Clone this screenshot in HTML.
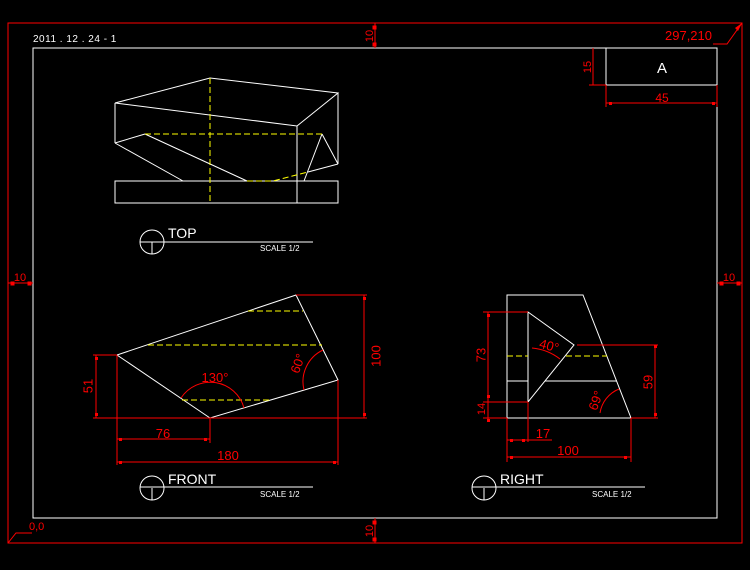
<!DOCTYPE html>
<html><head><meta charset="utf-8"><style>
html,body{margin:0;padding:0;background:#000;width:750px;height:570px;overflow:hidden}
svg{display:block}
text{font-family:"Liberation Sans",sans-serif}
</style></head><body>
<svg width="750" height="570" viewBox="0 0 750 570" xmlns="http://www.w3.org/2000/svg">
<rect width="750" height="570" fill="#000"/>
<rect x="8" y="23" width="734" height="520" fill="none" stroke="#f00" stroke-width="1"/>
<rect x="33" y="48" width="684" height="470" fill="none" stroke="#fff" stroke-width="1"/>
<g fill="#f00" stroke="#f00" stroke-width="1">
<line x1="375" y1="23" x2="375" y2="48"/><rect x="373" y="26" width="3" height="3"/><rect x="373" y="43" width="3" height="3"/>
<line x1="375" y1="518" x2="375" y2="543"/><rect x="373" y="521" width="3" height="3"/><rect x="373" y="538" width="3" height="3"/>
<line x1="8" y1="283" x2="33" y2="283"/><rect x="11" y="282" width="3" height="3"/><rect x="28" y="282" width="3" height="3"/>
<line x1="717" y1="283" x2="742" y2="283"/><rect x="720" y="282" width="3" height="3"/><rect x="737" y="282" width="3" height="3"/>
</g>
<g fill="#f00" font-size="11">
<text x="370" y="36" text-anchor="middle" transform="rotate(-90 370 36)" dominant-baseline="middle">10</text>
<text x="370" y="531" text-anchor="middle" transform="rotate(-90 370 531)" dominant-baseline="middle">10</text>
<text x="20" y="281" text-anchor="middle">10</text>
<text x="729" y="281" text-anchor="middle">10</text>
<text x="665" y="40" font-size="13">297,210</text>
<text x="29" y="530" font-size="11">0,0</text>
</g>
<polyline points="713,44 727,44 742,23" fill="none" stroke="#f00"/>
<polygon points="742,23 735,28 738,31" fill="#f00"/>
<polyline points="32,533 16,533 8,543" fill="none" stroke="#f00"/>
<text x="33" y="42" fill="#fff" font-size="10" letter-spacing="0.5">2011 . 12 . 24  - 1</text>
<rect x="606" y="48" width="111" height="37" fill="none" stroke="#fff"/>
<text x="662" y="73" fill="#fff" font-size="15" text-anchor="middle">A</text>
<g stroke="#f00" fill="#f00">
<line x1="593" y1="48" x2="593" y2="85"/><line x1="589" y1="85" x2="606" y2="85"/>
<line x1="606" y1="85" x2="606" y2="107"/><line x1="606" y1="103" x2="717" y2="103"/>
<line x1="717" y1="85" x2="717" y2="107"/>
<rect x="609" y="102" width="3" height="3" stroke="none"/><rect x="712" y="102" width="3" height="3" stroke="none"/>
</g>
<text x="588" y="67" fill="#f00" font-size="11" text-anchor="middle" dominant-baseline="middle" transform="rotate(-90 588 67)">15</text>
<text x="662" y="102" fill="#f00" font-size="12" text-anchor="middle">45</text>

<g fill="none" stroke="#fff" stroke-width="1">
<polygon points="115,103 210,78 338,93 297,126"/>
<line x1="115" y1="103" x2="115" y2="143"/>
<line x1="115" y1="143" x2="145" y2="134"/>
<line x1="145" y1="134" x2="247" y2="181"/>
<line x1="115" y1="143" x2="183" y2="181"/>
<line x1="338" y1="93" x2="338" y2="164"/>
<line x1="338" y1="164" x2="308" y2="172"/>
<line x1="322" y1="134" x2="338" y2="164"/>
<line x1="322" y1="134" x2="304" y2="181"/>
<line x1="297" y1="126" x2="297" y2="203"/>
<rect x="115" y="181" width="223" height="22"/>
</g>
<g fill="none" stroke="#ff0" stroke-width="1" stroke-dasharray="6,3">
<line x1="145" y1="134" x2="322" y2="134"/>
<line x1="210" y1="78" x2="210" y2="203"/>
<polyline points="247,181 273,181 308,172"/>
</g>
<g stroke="#fff" fill="none">
<circle cx="152" cy="242" r="12"/><line x1="152" y1="242" x2="152" y2="254"/><line x1="140" y1="242" x2="313" y2="242"/>
</g>
<text x="168" y="238" fill="#fff" font-size="14">TOP</text>
<text x="260" y="251" fill="#fff" font-size="8">SCALE 1/2</text>

<polygon points="117,355 296,295 338,380 210,418" fill="none" stroke="#fff"/>
<g stroke="#ff0" stroke-dasharray="6,3">
<line x1="248" y1="311" x2="303" y2="311"/>
<line x1="148" y1="345" x2="322" y2="345"/>
<line x1="182" y1="400" x2="272" y2="400"/>
</g>
<g stroke="#f00" fill="none">
<line x1="93" y1="418" x2="367" y2="418"/>
<line x1="117" y1="355" x2="117" y2="465"/>
<line x1="93" y1="355" x2="117" y2="355"/>
<line x1="96" y1="355" x2="96" y2="418"/>
<line x1="296" y1="295" x2="367" y2="295"/>
<line x1="364" y1="295" x2="364" y2="418"/>
<line x1="210" y1="418" x2="210" y2="443"/>
<line x1="117" y1="439" x2="210" y2="439"/>
<line x1="338" y1="380" x2="338" y2="465"/>
<line x1="117" y1="462" x2="338" y2="462"/>
<path d="M181,398 A35,35 0 0 1 244,408"/>
<path d="M304,390 A35,35 0 0 1 323,350"/>
</g>
<g fill="#f00">
<rect x="95" y="357" width="3" height="3"/><rect x="95" y="413" width="3" height="3"/>
<rect x="363" y="297" width="3" height="3"/><rect x="363" y="413" width="3" height="3"/>
<rect x="119" y="438" width="3" height="3"/><rect x="204" y="438" width="3" height="3"/>
<rect x="119" y="461" width="3" height="3"/><rect x="333" y="461" width="3" height="3"/>
</g>
<g fill="#f00" font-size="13">
<text x="89" y="386" text-anchor="middle" dominant-baseline="middle" transform="rotate(-90 89 386)">51</text>
<text x="377" y="356" text-anchor="middle" dominant-baseline="middle" transform="rotate(-90 377 356)">100</text>
<text x="163" y="438" text-anchor="middle">76</text>
<text x="228" y="460" text-anchor="middle">180</text>
<text x="215" y="382" text-anchor="middle">130°</text>
<text x="302" y="365" text-anchor="middle" transform="rotate(-70 302 365)">60°</text>
</g>
<g stroke="#fff" fill="none">
<circle cx="152" cy="488" r="12"/><line x1="152" y1="488" x2="152" y2="500"/><line x1="140" y1="487" x2="313" y2="487"/>
</g>
<text x="168" y="484" fill="#fff" font-size="14">FRONT</text>
<text x="260" y="497" fill="#fff" font-size="8">SCALE 1/2</text>

<g fill="none" stroke="#fff">
<polygon points="507,295 583,295 631,418 507,418"/>
<polygon points="528,312 574,345 528,402"/>
<line x1="507" y1="381" x2="528" y2="381"/>
<line x1="545" y1="381" x2="617" y2="381"/>
</g>
<g stroke="#ff0" stroke-dasharray="6,3">
<line x1="507" y1="356" x2="528" y2="356"/>
<line x1="566" y1="356" x2="607" y2="356"/>
</g>
<g stroke="#f00" fill="none">
<line x1="483" y1="312" x2="528" y2="312"/>
<line x1="483" y1="402" x2="528" y2="402"/>
<line x1="483" y1="418" x2="507" y2="418"/>
<line x1="488" y1="312" x2="488" y2="422"/>
<line x1="577" y1="345" x2="658" y2="345"/>
<line x1="631" y1="418" x2="658" y2="418"/>
<line x1="655" y1="345" x2="655" y2="418"/>
<line x1="507" y1="418" x2="507" y2="462"/>
<line x1="528" y1="402" x2="528" y2="442"/>
<line x1="631" y1="418" x2="631" y2="462"/>
<line x1="507" y1="440" x2="552" y2="440"/>
<line x1="507" y1="457" x2="631" y2="457"/>
<path d="M532,348 A53.5,53.5 0 0 1 560,359"/>
<path d="M600,413 A31,31 0 0 1 619,389"/>
</g>
<g fill="#f00">
<rect x="487" y="314" width="3" height="3"/><rect x="487" y="395" width="3" height="3"/><rect x="487" y="419" width="3" height="3"/>
<rect x="654" y="345" width="3" height="3"/><rect x="654" y="413" width="3" height="3"/>
<rect x="510" y="439" width="3" height="3"/><rect x="522" y="439" width="3" height="3"/>
<rect x="510" y="456" width="3" height="3"/><rect x="624" y="456" width="3" height="3"/>
</g>
<g fill="#f00" font-size="13">
<text x="482" y="355" text-anchor="middle" dominant-baseline="middle" transform="rotate(-90 482 355)">73</text>
<text x="482" y="409" text-anchor="middle" dominant-baseline="middle" transform="rotate(-90 482 409)" font-size="11">14</text>
<text x="649" y="382" text-anchor="middle" dominant-baseline="middle" transform="rotate(-90 649 382)">59</text>
<text x="543" y="438" text-anchor="middle">17</text>
<text x="568" y="455" text-anchor="middle">100</text>
<text x="548" y="350" text-anchor="middle" transform="rotate(15 548 350)">40°</text>
<text x="600" y="402" text-anchor="middle" transform="rotate(-70 600 402)">69°</text>
</g>
<g stroke="#fff" fill="none">
<circle cx="484" cy="488" r="12"/><line x1="484" y1="488" x2="484" y2="500"/><line x1="472" y1="487" x2="645" y2="487"/>
</g>
<text x="500" y="484" fill="#fff" font-size="14">RIGHT</text>
<text x="592" y="497" fill="#fff" font-size="8">SCALE 1/2</text>
</svg>
</body></html>
